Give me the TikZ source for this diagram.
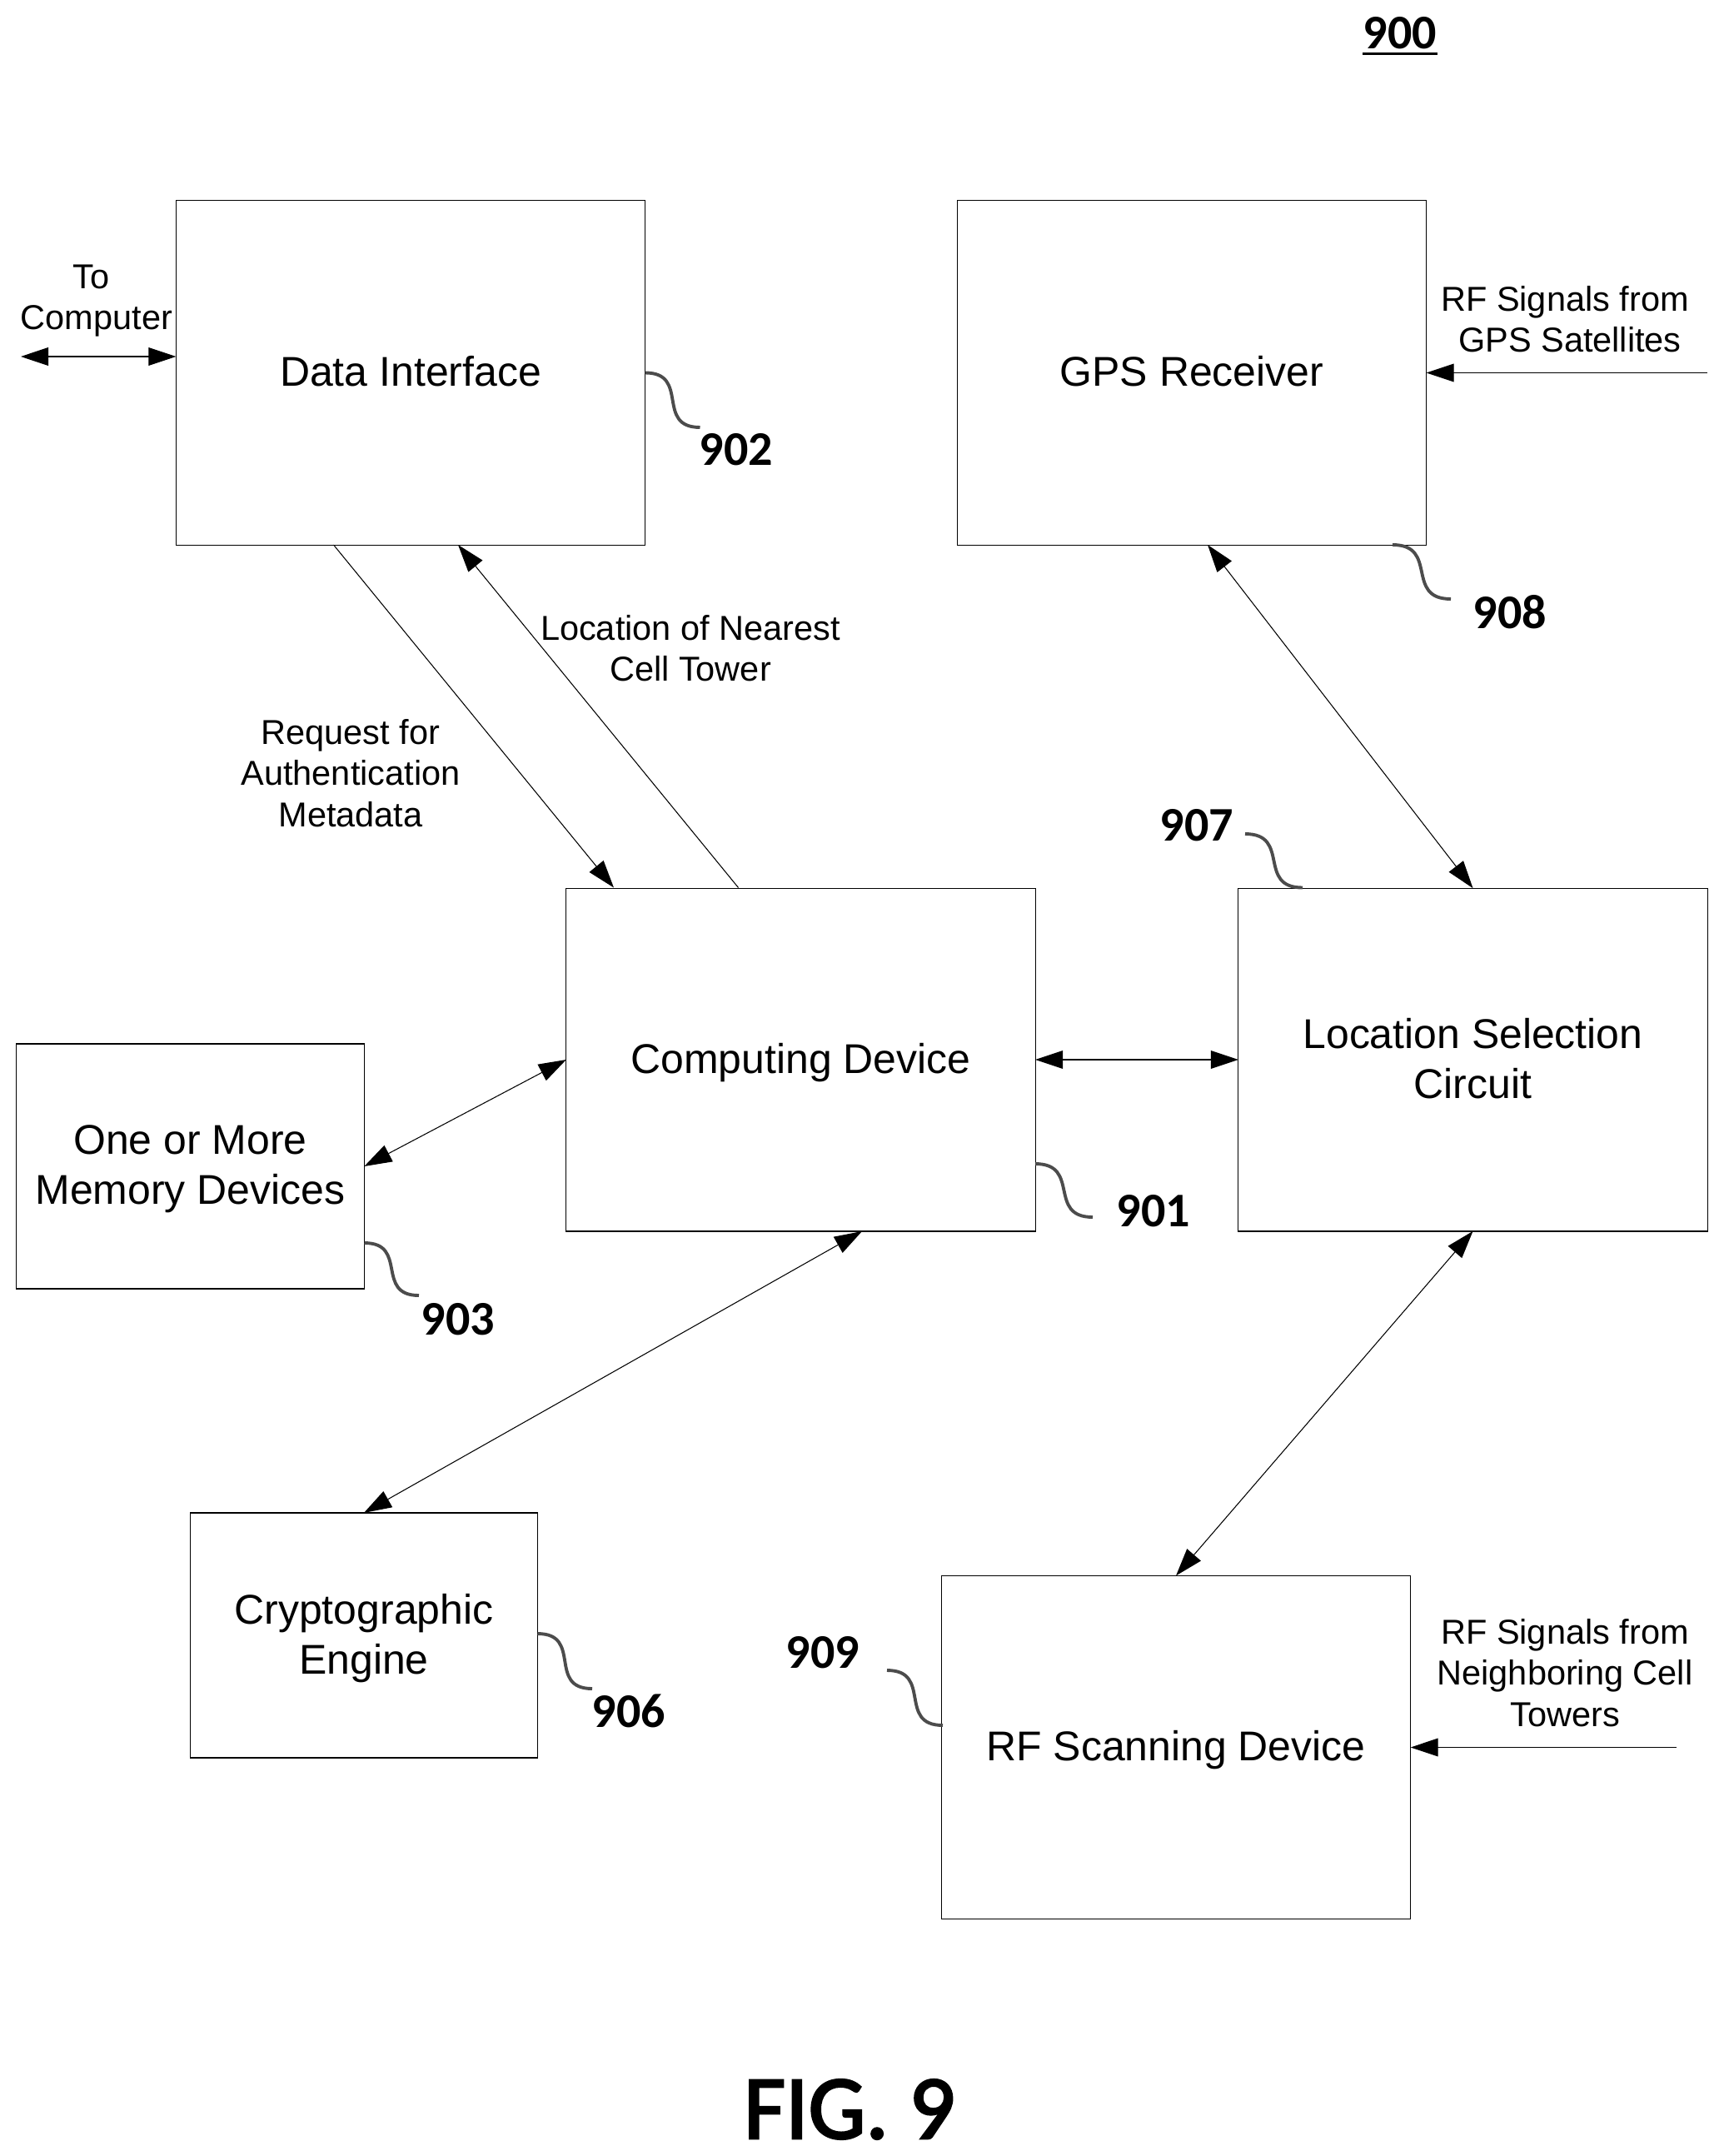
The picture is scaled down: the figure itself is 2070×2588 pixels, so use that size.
\documentclass[tikz,border=0pt]{standalone}
\usepackage{fontspec}
\setmainfont{Liberation Sans}
\newfontfamily\numfont{Carlito}
\newfontfamily\figfont[RawFeature={embolden=2.5}]{Carlito}
\usepackage{tikz}
\usetikzlibrary{arrows.meta}
\tikzstyle{block}=[draw,align=center,outer sep=0pt,line width=0.35pt,text depth=1pt,font=\fontsize{14.2}{16.9}\selectfont]
\tikzstyle{sig}=[align=center,inner sep=0pt,font=\fontsize{11.8}{14.1}\selectfont]
\tikzstyle{refnum}=[inner sep=0pt,font=\numfont\bfseries\fontsize{16.5}{18}\selectfont]
\tikzstyle{leader}=[draw=black!70,line width=1.1pt,looseness=1.5]
\tikzstyle{every edge}=[draw,line width=0.3pt,>={Triangle[length=9.4pt,width=6.2pt]}]

\begin{document}
\begin{tikzpicture}[x=0.01cm,y=-0.01cm]
  \useasboundingbox (0,0) rectangle (2070,2588);

  \node[block,minimum width=5.63cm,minimum height=4.13cm] (data) at (493,447.5) {Data Interface};
  \node[block,minimum width=5.63cm,minimum height=4.13cm] (gps) at (1431,447.5) {GPS Receiver};
  \node[block,minimum width=5.63cm,minimum height=4.115cm] (comp) at (961.5,1272) {Computing Device};
  \node[block,minimum width=5.63cm,minimum height=4.115cm] (loc) at (1768.5,1272) {Location Selection\\Circuit};
  \node[block,minimum width=4.175cm,minimum height=2.94cm] (mem) at (228.5,1400) {One or More\\Memory Devices};
  \node[block,minimum width=4.175cm,minimum height=2.94cm] (crypt) at (437,1963) {Cryptographic\\Engine};
  \node[block,minimum width=5.63cm,minimum height=4.12cm] (scan) at (1412,2097.5) {RF Scanning Device};

  \node[sig] (tocomp) at (116,361) {To\hspace*{3.9pt}\\Computer};
  \node[sig] (gpssig) at (1879,383) {RF Signals from\\\hspace*{3.4pt}GPS Satellites};
  \node[sig] (nearest) at (829,778) {Location of Nearest\\Cell Tower};
  \node[sig] (request) at (421,928) {Request for\\Authentication\\Metadata};
  \node[sig] (cellsig) at (1879,2008) {RF Signals from\\Neighboring Cell\\Towers};

  \node[refnum] (n900) at (1681,40) {900};
  \node[refnum] (n901) at (1385,1454) {901};
  \node[refnum] (n902) at (884,540) {902};
  \node[refnum] (n903) at (550,1584) {903};
  \node[refnum] (n906) at (755,2054) {906};
  \node[refnum] (n907) at (1437,991) {907};
  \node[refnum] (n908) at (1813,735) {908};
  \node[refnum] (n909) at (988,1984) {909};
  \node[font=\figfont\fontsize{31}{32}\selectfont,inner sep=0pt] (fig) at (1020,2532) {FIG. 9};
  \draw[line width=1.1pt] ([yshift=-1.3pt]n900.south west) -- ([yshift=-1.3pt]n900.south east);

  \coordinate (tofree) at (25,428);
  \coordinate (gpsfree) at (2050,447.5);
  \coordinate (scanfree) at (2013,2097.5);
  \coordinate (dataout) at (400.5,654);
  \coordinate (compin) at (737,1065.5);
  \coordinate (compout) at (886.5,1065.5);
  \coordinate (datain) at (550,654);
  \coordinate (gpsport) at (1450,654);
  \coordinate (compport) at (1035,1478);

  % leaders
  \coordinate (s901) at (1243,1397);
  \coordinate (e901) at (1312,1461);
  \coordinate (e902) at (840.5,513);
  \coordinate (s903) at (437.5,1492);
  \coordinate (e903) at (503,1555);
  \coordinate (s906) at (645.5,1961);
  \coordinate (e906) at (711,2027);
  \coordinate (s907) at (1495,1001);
  \coordinate (e907) at (1564,1065.5);
  \coordinate (s908) at (1672,654);
  \coordinate (e908) at (1742,719);
  \coordinate (s909) at (1065,2005);
  \coordinate (e909) at (1132,2071);
  \draw[leader] (s901) to[out=0,in=180] (e901);
  \draw[leader] (data.east) to[out=0,in=180] (e902);
  \draw[leader] (s903) to[out=0,in=180] (e903);
  \draw[leader] (s906) to[out=0,in=180] (e906);
  \draw[leader] (s907) to[out=0,in=180] (e907);
  \draw[leader] (s908) to[out=0,in=180] (e908);
  \draw[leader] (s909) to[out=0,in=180] (e909);

  \path[<->] (tofree) edge (tofree -| data.west)
	(gpsport) edge (loc.north)
	(comp.east) edge (loc.west)
	(mem.east) edge (comp.west)
	(crypt.north) edge (compport)
	(loc.south) edge (scan.north);
  \path[->] (dataout) edge (compin)
	(compout) edge (datain)
	(gpsfree) edge (gps.east)
	(scanfree) edge (scan.east);
\end{tikzpicture}
\end{document}
